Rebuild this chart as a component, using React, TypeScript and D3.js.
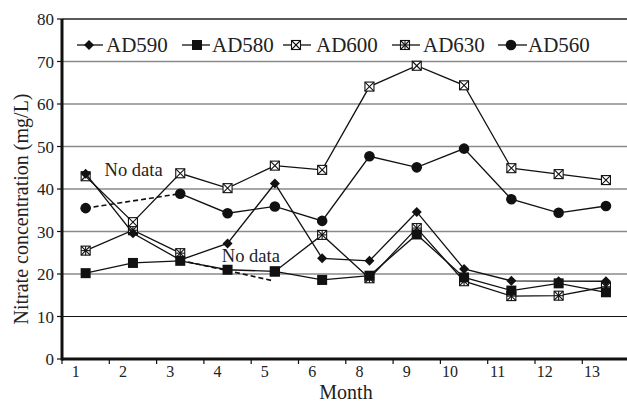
import React from "react";
import * as d3 from "d3";

const months = ["1", "2", "3", "4", "5", "6", "8", "9", "10", "11", "12", "13"];
const yTicks = [0, 10, 20, 30, 40, 50, 60, 70, 80];

const AD590 = [43.6, 29.6, 23.3, 27.2, 41.3, 23.7, 23.1, 34.6, 21.2, 18.4, 18.3, 18.3];
const AD580 = [20.2, 22.6, 23.1, 21.0, 20.6, 18.6, 19.6, 29.3, 19.2, 16.1, 17.8, 15.7];
const AD600 = [43.0, 32.2, 43.7, 40.2, 45.5, 44.5, 64.1, 69.0, 64.4, 44.9, 43.5, 42.1];
const AD630: (number | null)[] = [25.5, 30.3, 24.9, null, 20.6, 29.2, 19.0, 30.8, 18.3, 14.8, 14.9, 17.0];
const AD560: (number | null)[] = [35.5, null, 38.9, 34.3, 35.9, 32.5, 47.7, 45.1, 49.5, 37.6, 34.4, 36.0];

// dashed "no data" connectors: [category index, value]
const gap560: [number, number][] = [[0, 35.5], [2, 38.9]];
const gap630: [number, number][] = [[2, 23.2], [3, 20.8], [3.96, 18.4]];

const noDataLabels = [
  { i: 0.4, v: 43.0, text: "No data" },
  { i: 2.88, v: 22.8, text: "No data" },
];

type MarkerKind = "diamond" | "square" | "xsquare" | "asquare" | "circle";

const seriesList: { name: string; values: (number | null)[]; marker: MarkerKind }[] = [
  { name: "AD630", values: AD630, marker: "asquare" },
  { name: "AD600", values: AD600, marker: "xsquare" },
  { name: "AD590", values: AD590, marker: "diamond" },
  { name: "AD580", values: AD580, marker: "square" },
  { name: "AD560", values: AD560, marker: "circle" },
];

const legendOrder = ["AD590", "AD580", "AD600", "AD630", "AD560"];

const W = 627;
const H = 402;
const left = 62;
const step = 47.3;
const top = 19;
const bottom = 359;
const FONT = "'Liberation Serif', 'Times New Roman', serif";

function Marker({ kind, x, y }: { kind: MarkerKind; x: number; y: number }) {
  if (kind === "diamond") {
    const r = 5;
    return <path d={`M${x},${y - r}L${x + r},${y}L${x},${y + r}L${x - r},${y}Z`} fill="#111" />;
  }
  if (kind === "square") {
    const s = 10;
    return <rect x={x - s / 2} y={y - s / 2} width={s} height={s} fill="#111" />;
  }
  if (kind === "circle") {
    return <circle cx={x} cy={y} r={5.3} fill="#111" />;
  }
  const s = 9;
  const h = s / 2;
  return (
    <g stroke="#111" strokeWidth={1.1} fill="#fff">
      <rect x={x - h} y={y - h} width={s} height={s} />
      <line x1={x - h} y1={y - h} x2={x + h} y2={y + h} />
      <line x1={x + h} y1={y - h} x2={x - h} y2={y + h} />
      {kind === "asquare" && <line x1={x} y1={y - h} x2={x} y2={y + h} />}
      {kind === "asquare" && <line x1={x - h} y1={y} x2={x + h} y2={y} />}
    </g>
  );
}

export default function App() {
  const xBand = d3.scaleBand<number>().domain(d3.range(12)).range([left, left + step * 12]).padding(0);
  const xc = (i: number) => (xBand(i) as number) + xBand.bandwidth() / 2;
  const xl = d3.scaleLinear().domain([0, 11]).range([xc(0), xc(11)]);
  const y = d3.scaleLinear().domain([0, 80]).range([bottom, top]);

  const line = d3
    .line<number | null>()
    .defined((d) => d !== null)
    .x((_, i) => xc(i))
    .y((d) => y(d as number));

  const dashLine = d3
    .line<[number, number]>()
    .x((d) => xl(d[0]))
    .y((d) => y(d[1]));

  const legendPos: Record<string, { lx1: number; lx2: number; mx: number; tx: number }> = {
    AD590: { lx1: 77, lx2: 103, mx: 89, tx: 106 },
    AD580: { lx1: 182, lx2: 210, mx: 197, tx: 212 },
    AD600: { lx1: 283, lx2: 311, mx: 296, tx: 316 },
    AD630: { lx1: 392, lx2: 420, mx: 405, tx: 423 },
    AD560: { lx1: 498, lx2: 527, mx: 511, tx: 528 },
  };
  const legendY = 45;

  return (
    <div style={{ position: "fixed", left: 0, top: 0 }}>
      <svg width={W} height={H} style={{ display: "block", background: "#fff" }} fontFamily={FONT}>
        <rect width={W} height={H} fill="#fff" />
        {/* grid */}
        {yTicks.filter((t) => t > 0).map((t) => (
          <line
            key={t}
            x1={left}
            x2={W}
            y1={y(t)}
            y2={y(t)}
            stroke={t === 80 ? "#222" : t === 10 ? "#111" : "#8a8a8a"}
            strokeWidth={t === 80 ? 1.6 : t === 10 ? 1.1 : 1.6}
          />
        ))}
        {/* y ticks & labels */}
        {yTicks.map((t) => (
          <g key={t}>
            <line x1={left - 5} x2={left} y1={y(t)} y2={y(t)} stroke="#111" strokeWidth={1.2} />
            <text x={54} y={y(t) + 6} textAnchor="end" fontSize={17} fill="#222">
              {t}
            </text>
          </g>
        ))}
        {/* x ticks & labels */}
        {d3.range(13).map((i) => (
          <line key={i} x1={left + step * i} x2={left + step * i} y1={bottom} y2={bottom + 5} stroke="#111" strokeWidth={1.2} />
        ))}
        {months.map((m, i) => (
          <text key={m} x={xc(i) - 6} y={377} textAnchor="end" fontSize={16} fill="#222">
            {m}
          </text>
        ))}
        {/* axes */}
        <line x1={left} x2={left} y1={top} y2={bottom + 1.5} stroke="#111" strokeWidth={3} />
        <line x1={left} x2={W} y1={bottom} y2={bottom} stroke="#111" strokeWidth={3} />
        {/* titles */}
        <text x={346} y={399} textAnchor="middle" fontSize={20} fill="#222">
          Month
        </text>
        <text transform={`translate(28,209) rotate(-90)`} textAnchor="middle" fontSize={20} fill="#222">
          Nitrate concentration (mg/L)
        </text>
        {/* dashed no-data connectors */}
        <path d={dashLine(gap560) || ""} fill="none" stroke="#111" strokeWidth={1.6} strokeDasharray="5,3" />
        <path d={dashLine(gap630) || ""} fill="none" stroke="#111" strokeWidth={1.6} strokeDasharray="5,3" />
        {/* series */}
        {seriesList.map((s) => (
          <g key={s.name}>
            <path d={line(s.values) || ""} fill="none" stroke="#111" strokeWidth={1.3} />
            {s.values.map((v, i) => (v === null ? null : <Marker key={i} kind={s.marker} x={xc(i)} y={y(v)} />))}
          </g>
        ))}
        {/* no data labels */}
        {noDataLabels.map((d, k) => (
          <text key={k} x={xl(d.i)} y={y(d.v)} fontSize={18.5} fill="#222">
            {d.text}
          </text>
        ))}
        {/* legend */}
        {legendOrder.map((name) => {
          const s = seriesList.find((q) => q.name === name)!;
          const p = legendPos[name];
          return (
            <g key={name}>
              <line x1={p.lx1} x2={p.lx2} y1={legendY} y2={legendY} stroke="#111" strokeWidth={1.3} />
              <Marker kind={s.marker} x={p.mx} y={legendY} />
              <text x={p.tx} y={legendY + 7} fontSize={21} fill="#222">
                {name}
              </text>
            </g>
          );
        })}
      </svg>
    </div>
  );
}
